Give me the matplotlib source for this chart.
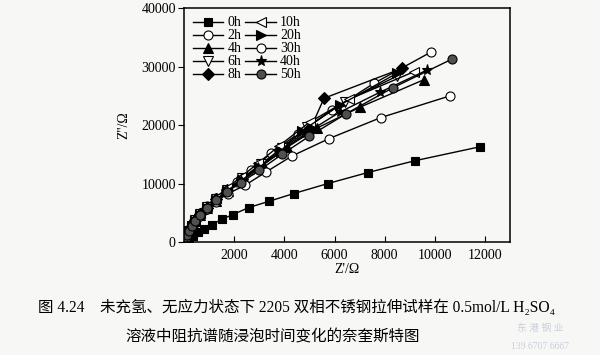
import matplotlib
matplotlib.use('Agg')
from matplotlib import pyplot as plt

plt.rcParams['font.family'] = ['Liberation Serif', 'Noto Sans CJK SC', 'DejaVu Sans']

# Nyquist data (Z', Z'' in ohm)
x_0h = [40, 100, 200, 350, 550, 800, 1100, 1500, 1940, 2570, 3400, 4370, 5720, 7330, 9190, 11800]
y_0h = [80, 250, 600, 1100, 1700, 2300, 3000, 3900, 4700, 5900, 7000, 8300, 10000, 11900, 13900, 16300]

x_2h = [30, 70, 120, 200, 300, 450, 650, 900, 1250, 1650, 2090, 2680, 3470, 4530, 5910, 7590, 9850]
y_2h = [300, 800, 1300, 2000, 2800, 3800, 4900, 6100, 7500, 8900, 10300, 12400, 15200, 18500, 22600, 27200, 32500]

x_4h = [30, 70, 120, 200, 300, 450, 650, 900, 1250, 1750, 2400, 3150, 4100, 5300, 7030, 9580]
y_4h = [260, 720, 1200, 1850, 2650, 3600, 4600, 5800, 7100, 8800, 10800, 13200, 16200, 19500, 23100, 27800]

x_6h = [30, 70, 120, 200, 300, 450, 650, 900, 1250, 1700, 2300, 3050, 3900, 4900, 6400, 8500]
y_6h = [290, 780, 1300, 1950, 2800, 3750, 4800, 6000, 7400, 8900, 10900, 13300, 16100, 19700, 24000, 28400]

x_8h = [30, 70, 120, 200, 300, 450, 650, 900, 1250, 1700, 2300, 3000, 3900, 5070, 5580, 8690]
y_8h = [280, 760, 1250, 1900, 2700, 3700, 4750, 5900, 7300, 8900, 10800, 13000, 15800, 19700, 24600, 29700]

x_10h = [30, 70, 120, 200, 300, 450, 650, 900, 1250, 1700, 2250, 2950, 3800, 5000, 6570, 9150]
y_10h = [300, 800, 1350, 2000, 2850, 3850, 4950, 6200, 7600, 9200, 11100, 13500, 16500, 20500, 24400, 29100]

x_20h = [30, 70, 120, 200, 300, 450, 650, 900, 1250, 1700, 2300, 3000, 3850, 4700, 6200, 8500]
y_20h = [270, 740, 1230, 1880, 2700, 3650, 4700, 5850, 7200, 8700, 10600, 12800, 15600, 19000, 23400, 28900]

x_30h = [30, 70, 120, 200, 300, 450, 650, 900, 1250, 1750, 2420, 3270, 4290, 5780, 7850, 10600]
y_30h = [250, 700, 1200, 1800, 2600, 3500, 4500, 5600, 6900, 8300, 9700, 12000, 14700, 17700, 21300, 25000]

x_40h = [30, 70, 120, 200, 300, 450, 650, 900, 1250, 1700, 2250, 2950, 3800, 4850, 6200, 7800, 9680]
y_40h = [270, 740, 1230, 1870, 2680, 3620, 4650, 5800, 7100, 8700, 10400, 12600, 15300, 18600, 22200, 25600, 29400]

x_50h = [30, 70, 120, 200, 300, 450, 650, 900, 1250, 1700, 2250, 3000, 3900, 4990, 6440, 8330, 10690]
y_50h = [280, 750, 1250, 1900, 2700, 3650, 4700, 5900, 7200, 8600, 10100, 12300, 15000, 18100, 21900, 26400, 31300]

labels = ['0h', '2h', '4h', '6h', '8h', '10h', '20h', '30h', '40h', '50h']
xs = [x_0h, x_2h, x_4h, x_6h, x_8h, x_10h, x_20h, x_30h, x_40h, x_50h]
ys = [y_0h, y_2h, y_4h, y_6h, y_8h, y_10h, y_20h, y_30h, y_40h, y_50h]
markers = ['s', 'o', '^', 'v', 'D', '<', '>', 'o', '*', 'o']
faces = ['black', 'white', 'black', 'white', 'black', 'white', 'black', 'white', 'black', '#505050']
sizes = [6, 6.5, 6.5, 6.5, 6, 6.5, 6.5, 6.5, 8, 6.5]

fig = plt.figure(figsize=(6, 3.55), dpi=100)
fig.patch.set_facecolor('#f7f7f5')
ax = fig.add_axes([0.307, 0.318, 0.543, 0.659])
ax.set_facecolor('#f7f7f5')

for xv, yv, lab, m, fc, ms in zip(xs, ys, labels, markers, faces, sizes):
    ax.plot(xv, yv, color='black', lw=1.0, marker=m, markersize=ms,
            markerfacecolor=fc, markeredgecolor='black', markeredgewidth=0.8, label=lab)

ax.set_xlim(0, 13000)
ax.set_ylim(0, 40000)
ax.set_xticks([2000, 4000, 6000, 8000, 10000, 12000])
ax.set_yticks([0, 10000, 20000, 30000, 40000])
ax.tick_params(axis='x', direction='in', length=4, labelsize=10, pad=5)
ax.tick_params(axis='y', direction='out', length=4, labelsize=10, pad=2)
for s in ax.spines.values():
    s.set_linewidth(1.1)

ax.set_xlabel("Z'/Ω", fontsize=10, labelpad=1)
ax.set_ylabel("Z''/Ω", fontsize=10, labelpad=8)

ax.legend(ncol=2, loc='upper left', frameon=False, fontsize=10, handlelength=2.2,
          handletextpad=0.3, columnspacing=0.3, labelspacing=0.0,
          borderaxespad=0.2, bbox_to_anchor=(0.0, 1.0))

fig.text(0.063, 0.132, '图 4.24　未充氢、无应力状态下 2205 双相不锈钢拉伸试样在 0.5mol/L H₂SO₄',
         fontsize=11.2, ha='left', va='center')
fig.text(0.455, 0.048, '溶液中阻抗谱随浸泡时间变化的奈奎斯特图', fontsize=11.2, ha='center', va='center')
fig.text(0.9, 0.075, '东 港 钢 业', fontsize=7, color='#c8d0dc', ha='center', va='center')
fig.text(0.9, 0.025, '139 6707 6667', fontsize=7, color='#c8d0dc', ha='center', va='center')

fig.savefig('out.png', dpi=100, facecolor=fig.get_facecolor())
